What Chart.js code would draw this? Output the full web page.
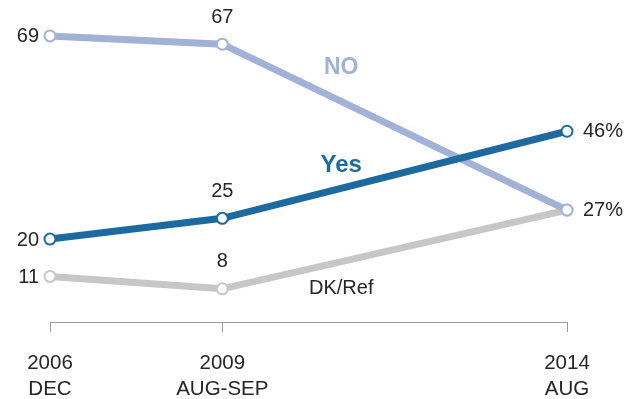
<!DOCTYPE html>
<html>
<head>
<meta charset="utf-8">
<script src="https://cdn.jsdelivr.net/npm/chart.js@4.4.1/dist/chart.umd.min.js"></script>
<style>
    html, body { margin: 0; padding: 0; background: #fff; }
    #wrap { width: 635px; height: 399px; position: relative; }
</style>
</head>
<body>
<div id="wrap"><canvas id="chart"></canvas></div>
<script>
// survey waves; the empty slot keeps the 2009-2014 gap wider
const waves = [['2006', 'DEC'], ['2009', 'AUG-SEP'], '', ['2014', 'AUG']];
const yesValues = [20, 25, null, 46];
const noValues = [69, 67, null, 27];
const dkValues = [11, 8, null, 27];

// where each value label sits relative to its point
const yesPlaces = ['left', 'above', null, 'right'];
const noPlaces = ['left', 'above', null, 'right'];
const dkPlaces = ['left', 'above', null, 'none'];

const textColor = '#262626';

const valueLabels = {
    id: 'valueLabels',
    afterDatasetsDraw(chart) {
        const { ctx } = chart;
        ctx.save();
        ctx.fillStyle = textColor;
        ctx.font = '20px "Liberation Sans", Arial, sans-serif';
        chart.data.datasets.forEach((ds, i) => {
            const meta = chart.getDatasetMeta(i);
            meta.data.forEach((pt, j) => {
                const v = ds.data[j];
                const place = ds.places[j];
                if (v === null || !place || place === 'none') return;
                const last = j === ds.data.length - 1;
                const text = last ? v + '%' : String(v);
                ctx.textBaseline = 'middle';
                if (place === 'left') {
                    ctx.textAlign = 'right';
                    ctx.fillText(text, pt.x - 11, pt.y + 1);
                } else if (place === 'right') {
                    ctx.textAlign = 'left';
                    ctx.fillText(text, pt.x + 16, pt.y);
                } else {
                    ctx.textAlign = 'center';
                    ctx.fillText(text, pt.x, pt.y - 27);
                }
            });
        });
        // series names, placed in data units
        chart.data.datasets.forEach((ds) => {
            const x = chart.scales.x.getPixelForValue(ds.nameAt[0]);
            const y = chart.scales.y.getPixelForValue(ds.nameAt[1]);
            ctx.font = ds.nameFont;
            ctx.fillStyle = ds.nameColor;
            ctx.textAlign = 'center';
            ctx.textBaseline = 'middle';
            ctx.fillText(ds.label, x, y);
        });
        ctx.restore();
    },
};

const pointStyle = (color) => ({
    borderColor: color,
    pointBackgroundColor: '#ffffff',
    pointBorderColor: color,
    pointBorderWidth: 2,
    pointRadius: 5.5,
    borderWidth: 7,
    spanGaps: true,
    tension: 0,
    borderCapStyle: 'round',
});

new Chart(document.getElementById('chart'), {
    type: 'line',
    data: {
        labels: waves,
        datasets: [
            {
                label: 'Yes',
                data: yesValues,
                places: yesPlaces,
                nameAt: [1.69, 37.8],
                nameFont: 'bold 24px "Liberation Sans", Arial, sans-serif',
                nameColor: '#1d6aa1',
                ...pointStyle('#1d6aa1'),
            },
            {
                label: 'NO',
                data: noValues,
                places: noPlaces,
                nameAt: [1.69, 61.3],
                nameFont: 'bold 23px "Liberation Sans", Arial, sans-serif',
                nameColor: '#a2b2d6',
                ...pointStyle('#a2b2d6'),
            },
            {
                label: 'DK/Ref',
                data: dkValues,
                places: dkPlaces,
                nameAt: [1.69, 8.2],
                nameFont: '20px "Liberation Sans", Arial, sans-serif',
                nameColor: textColor,
                ...pointStyle('#c7c7c7'),
            },
        ],
    },
    options: {
        responsive: true,
        maintainAspectRatio: false,
        animation: false,
        layout: { padding: { left: 50, right: 68, top: 11, bottom: 0 } },
        scales: {
            x: {
                offset: false,
                afterFit(scale) { scale.height = 77; },
                border: { display: true, color: '#999999', width: 1 },
                grid: {
                    drawOnChartArea: false,
                    drawTicks: true,
                    tickLength: 10,
                    tickWidth: 1,
                    tickColor: (c) => (waves[c.index] === '' ? 'rgba(0,0,0,0)' : '#999999'),
                },
                ticks: {
                    autoSkip: false,
                    maxRotation: 0,
                    padding: 18,
                    color: textColor,
                    font: { family: '"Liberation Sans", Arial, sans-serif', size: 20.5, lineHeight: 1.27 },
                },
            },
            y: {
                display: false,
                min: 0,
                max: 75,
            },
        },
        plugins: {
            legend: { display: false },
            tooltip: { enabled: false },
        },
    },
    plugins: [valueLabels],
});
</script>
</body>
</html>
